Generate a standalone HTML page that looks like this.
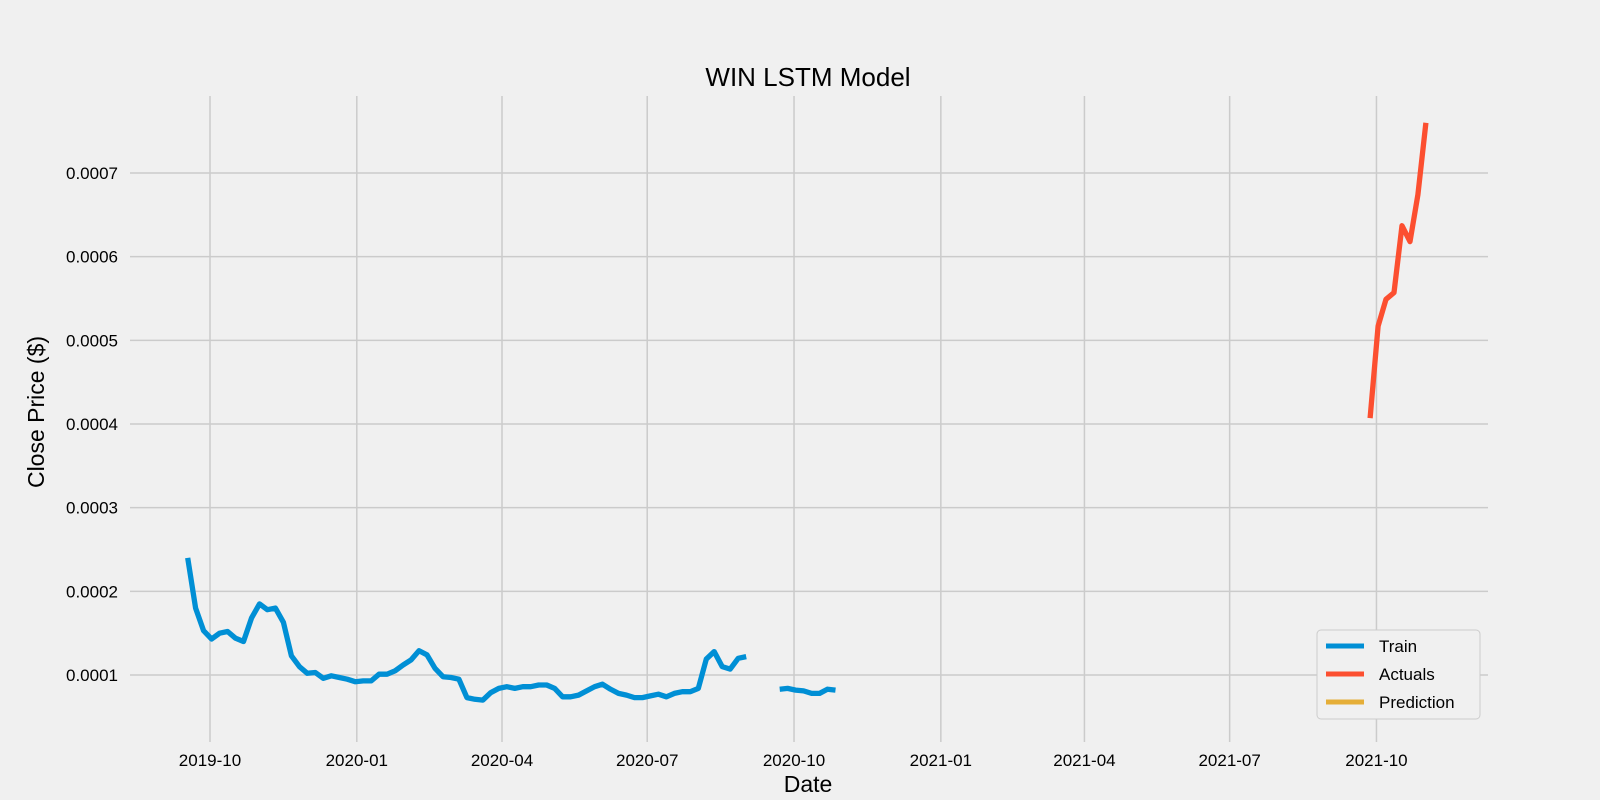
<!DOCTYPE html>
<html><head><meta charset="utf-8"><style>
body{margin:0;background:#f0f0f0;}
svg{display:block;font-family:"Liberation Sans","DejaVu Sans",sans-serif;}
</style></head><body>
<svg id="chart" width="1600" height="800">
<rect width="1600" height="800" fill="#f0f0f0"/>
<g id="grid"></g><g id="ticks"></g><g id="series"></g>
<text x="808" y="86" font-size="26" text-anchor="middle" fill="#000">WIN LSTM Model</text>
<text x="808" y="792" font-size="23" text-anchor="middle" fill="#000">Date</text>
<text transform="translate(44,412) rotate(-90)" font-size="23" text-anchor="middle" fill="#000">Close Price ($)</text>
<g>
<rect x="1317" y="630" width="163" height="89" rx="4" fill="#f0f0f0" stroke="#cccccc"/>
<line x1="1326" y1="646" x2="1364" y2="646" stroke="#008fd5" stroke-width="5"/>
<text x="1379" y="652" font-size="17">Train</text>
<line x1="1326" y1="674" x2="1364" y2="674" stroke="#fc4f30" stroke-width="5"/>
<text x="1379" y="680" font-size="17">Actuals</text>
<line x1="1326" y1="702" x2="1364" y2="702" stroke="#e5ae38" stroke-width="5"/>
<text x="1379" y="708" font-size="17">Prediction</text>
</g>
</svg>
<script>
const trainStart = "2019-09-17";
const trainValues = [240,180,153,143,150,152,144,140,168,185,178,180,163,123,110,102,103,96,99,97,95,92,93,93,101,101,105,112,118,129,124,108,98,97,95,73,71,70,79,84,86,84,86,86,88,88,84,74,74,76,81,86,89,83,78,76,73,73,75,77,74,78,80,80,84,119,128,110,107,120,122];
const train2Dates = ["2020-09-22","2020-09-27","2020-10-02","2020-10-07","2020-10-12","2020-10-17","2020-10-22","2020-10-27"];
const train2Values = [83,84,82,81,78,78,83,82];
const actualDates = ["2021-09-27","2021-10-02","2021-10-07","2021-10-12","2021-10-17","2021-10-22","2021-10-27","2021-11-01"];
const actualValues = [407,517,549,557,637,618,674,760];
const yTicks = [0.0001,0.0002,0.0003,0.0004,0.0005,0.0006,0.0007];
const xTickLabels = ["2019-10","2020-01","2020-04","2020-07","2020-10","2021-01","2021-04","2021-07","2021-10"];

const NS="http://www.w3.org/2000/svg";
const base=Date.parse("2019-10-01");
function days(d){return (Date.parse(d)-base)/86400000;}
function xs(d){return 210+days(d)*1.5957;}
function ys(v){return 675-(v-0.0001)*836700;}
const grid=document.getElementById('grid'),ticks=document.getElementById('ticks'),ser=document.getElementById('series');
function mk(tag,attrs,parent){const e=document.createElementNS(NS,tag);for(const k in attrs)e.setAttribute(k,attrs[k]);parent.appendChild(e);return e;}
yTicks.forEach(v=>{
 const l=mk('line',{x1:130,x2:1488,y1:ys(v),y2:ys(v),stroke:'#cbcbcb','stroke-width':1.5},grid);
 
 
 const t=mk('text',{x:118,y:ys(v)+6,'font-size':17,'text-anchor':'end'},ticks);
 
 
 t.textContent=v.toFixed(4);
});
xTickLabels.forEach(s=>{
 const x=xs(s+"-01");
 const l=mk('line',{x1:x,x2:x,y1:96,y2:742,stroke:'#cbcbcb','stroke-width':1.5},grid);
 
 
 const t=mk('text',{x:x,y:766,'font-size':17,'text-anchor':'middle'},ticks);
 
 
 t.textContent=s;
});
function line(dates,vals,color,name){
 const pts=dates.map((d,i)=>xs(d).toFixed(1)+","+ys(vals[i]*1e-6).toFixed(1)).join(" ");
 const p=mk('polyline',{points:pts,fill:'none',stroke:color,'stroke-width':5.3,'stroke-linejoin':'round'},ser);
 
 
}
const sd=Date.parse(trainStart);
const trainDates=trainValues.map((v,i)=>new Date(sd+i*5*86400000).toISOString().slice(0,10));
line(trainDates,trainValues,'#008fd5','train-line');
line(train2Dates,train2Values,'#008fd5','train-line-2');
line(actualDates,actualValues,'#fc4f30','actuals-line');
</script>
</body></html>
